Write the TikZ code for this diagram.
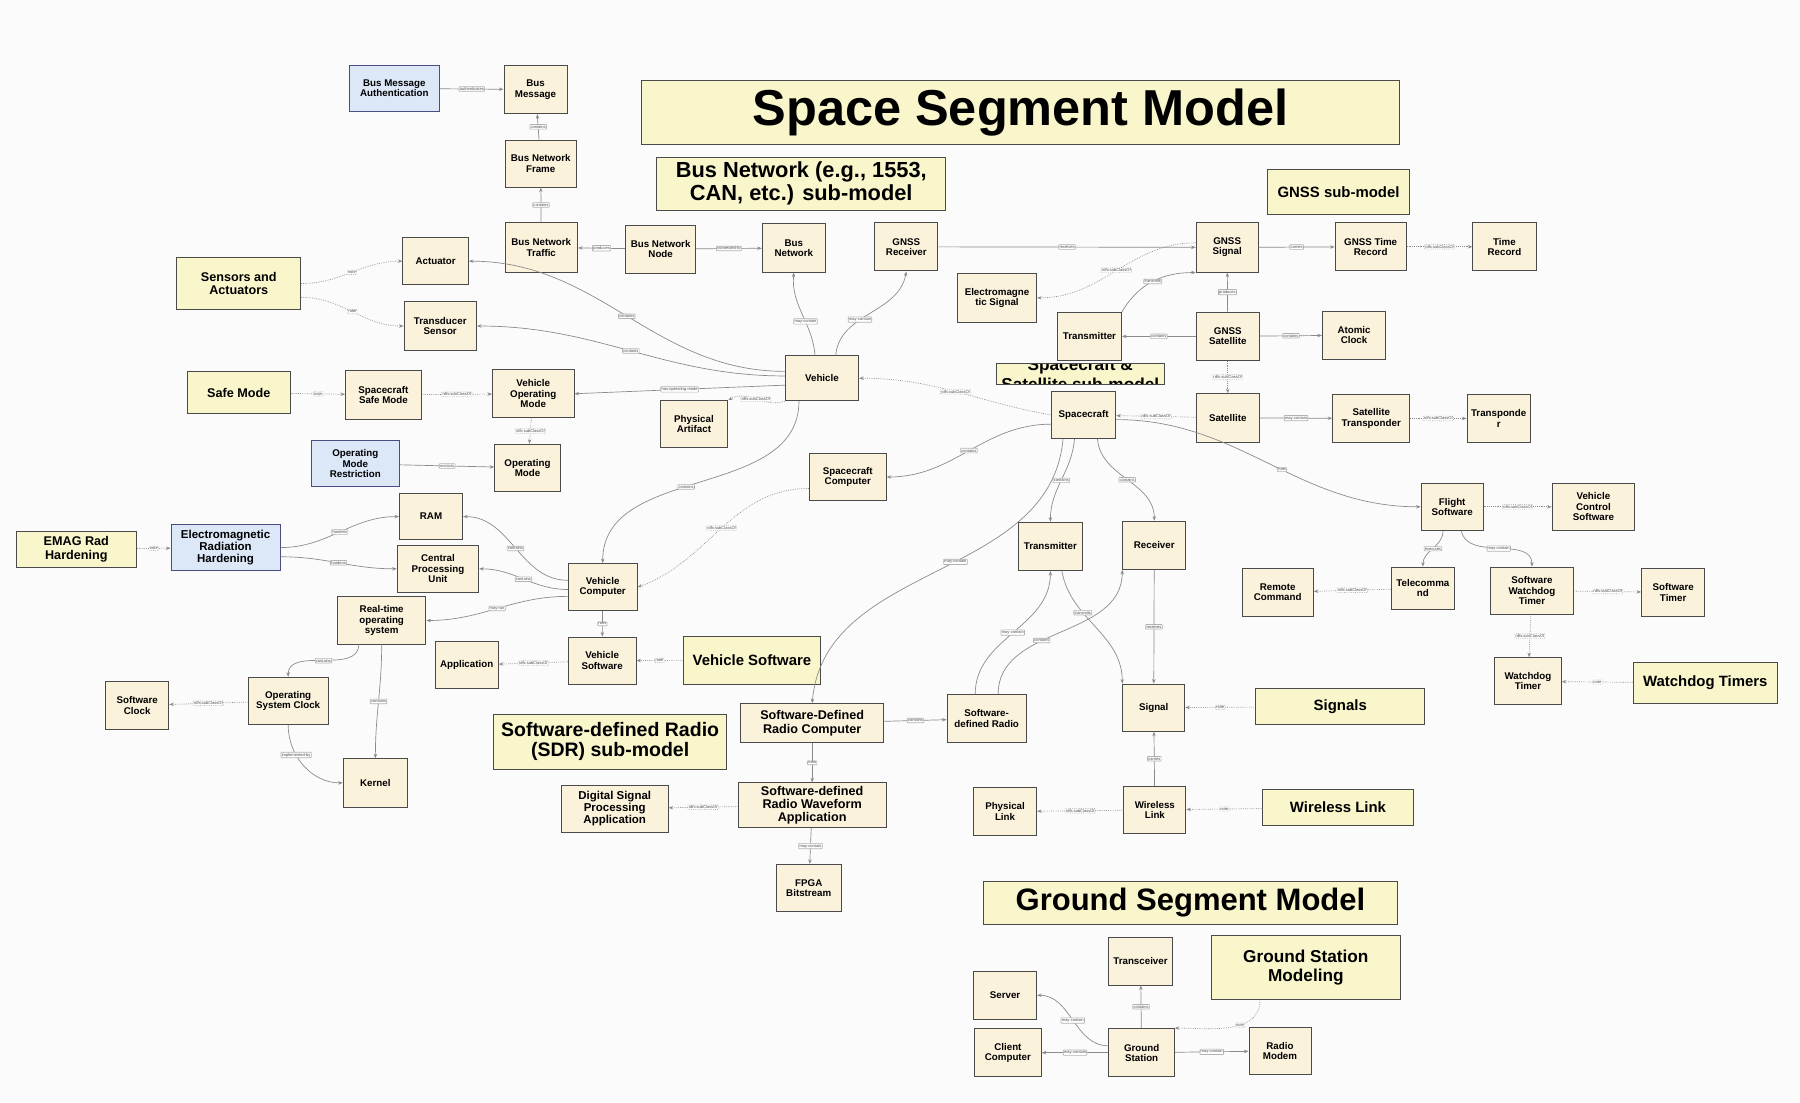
\documentclass[tikz,border=0pt]{standalone}
\usepackage{fontspec}
\setmainfont{Liberation Sans}
\usetikzlibrary{arrows.meta}
\definecolor{cream}{HTML}{FBF2DC}
\definecolor{notey}{HTML}{FAF6CC}
\definecolor{bluef}{HTML}{DCE7F8}
\definecolor{bord}{HTML}{4A4A4A}
\definecolor{edg}{HTML}{8A8A8A}
\tikzset{
 box/.style={draw=bord,fill=cream,line width=0.8pt,align=center,inner sep=1pt,font=\fontsize{8.5}{9}\selectfont\bfseries},
 note/.style={draw=bord,fill=notey,line width=0.8pt,align=center,inner sep=1pt,font=\fontsize{13}{14}\selectfont\bfseries},
 blue/.style={box,fill=bluef,draw=HTML4A},
 ttl/.style={draw=bord,fill=notey,line width=0.8pt,align=center,inner sep=1pt,font=\fontsize{17}{18}\selectfont\bfseries},
 edge/.style={draw=edg,line width=0.6pt,-{Stealth[length=4pt,width=3pt]}},
 dedge/.style={edge,densely dotted},
 lbl/.style={fill=white,draw=gray!60,rounded corners=0.5pt,inner sep=0.7pt,font=\fontsize{3.5}{4}\selectfont,text=black!70},
}
\colorlet{HTML4A}{blue!30!black!70}
\newcommand\B[7]{\node[#7,minimum width={(#4-#2)*1pt},minimum height={(#5-#3)*1pt}] (#1) at ({(#2+#4)/2},{(#3+#5)/2}) {#6};}
\begin{document}
\begin{tikzpicture}[x=1pt,y=-1pt]
\useasboundingbox (0,0) rectangle (1568,960);
\fill[white!97!gray] (0,0) rectangle (1568,960);
% titles
\B{t1}{559}{70}{1219}{126}{Space Segment Model}{ttl,font=\fontsize{44}{46}\selectfont\bfseries}
\B{t2}{572}{137}{824}{183}{Bus Network (e.g., 1553,\\CAN, etc.) sub-model}{ttl,font=\fontsize{19}{20}\selectfont\bfseries}
\B{t3}{1104}{148}{1228}{187}{GNSS sub-model}{ttl,font=\fontsize{13}{14}\selectfont\bfseries}
\begin{scope}
\clip (868,317) rectangle (1014,335);
\B{t4}{868}{317}{1014}{335}{Spacecraft \&\\Satellite sub-model}{ttl,font=\fontsize{15}{17}\selectfont\bfseries}
\end{scope}
\draw[bord,line width=0.8pt] (868,317) rectangle (1014,335);
\B{t5}{430}{622}{633}{670}{Software-defined Radio\\(SDR) sub-model}{ttl}
\B{t6}{857}{768}{1217}{805}{Ground Segment Model}{ttl,font=\fontsize{27}{28}\selectfont\bfseries}
\B{gsm}{1055}{815}{1220}{871}{Ground Station\\Modeling}{note,font=\fontsize{15}{16}\selectfont\bfseries}
% notes
\B{sa}{154}{224}{262}{270}{Sensors and\\Actuators}{note,font=\fontsize{11}{12}\selectfont\bfseries}
\B{sm}{163}{324}{253}{360}{Safe Mode}{note,font=\fontsize{11}{12}\selectfont\bfseries}
\B{emag}{14}{463}{119}{494}{EMAG Rad\\Hardening}{note,font=\fontsize{11}{12}\selectfont\bfseries}
\B{vsn}{595}{554}{715}{596}{Vehicle Software}{note}
\B{sign}{1094}{600}{1241}{631}{Signals}{note}
\B{wln}{1100}{688}{1231}{719}{Wireless Link}{note}
\B{wdn}{1423}{577}{1548}{613}{Watchdog Timers}{note}
% blue
\B{bma}{304}{57}{383}{97}{Bus Message\\Authentication}{blue}
\B{omr}{271}{384}{348}{424}{Operating\\Mode\\Restriction}{blue}
\B{emrh}{149}{457}{244}{497}{Electromagnetic\\Radiation\\Hardening}{blue,font=\fontsize{10}{10.5}\selectfont\bfseries}
% boxes
\B{bm}{439}{57}{494}{99}{Bus\\Message}{box}
\B{bnf}{440}{122}{502}{163}{Bus Network\\Frame}{box}
\B{bnt}{440}{194}{503}{237}{Bus Network\\Traffic}{box}
\B{bnn}{545}{196}{606}{238}{Bus Network\\Node}{box}
\B{bn}{664}{195}{719}{237}{Bus\\Network}{box}
\B{gr}{762}{194}{817}{236}{GNSS\\Receiver}{box}
\B{gs}{1042}{194}{1096}{237}{GNSS\\Signal}{box}
\B{gtr}{1163}{194}{1225}{236}{GNSS Time\\Record}{box}
\B{tr}{1283}{194}{1338}{236}{Time\\Record}{box}
\B{ems}{834}{238}{903}{281}{Electromagne\\tic Signal}{box}
\B{act}{351}{207}{408}{248}{Actuator}{box}
\B{ts}{352}{263}{415}{305}{Transducer\\Sensor}{box}
\B{tx1}{921}{272}{977}{314}{Transmitter}{box}
\B{gsat}{1042}{272}{1097}{314}{GNSS\\Satellite}{box}
\B{ac}{1152}{271}{1207}{313}{Atomic\\Clock}{box}
\B{veh}{684}{310}{748}{349}{Vehicle}{box}
\B{ssm}{301}{323}{367}{365}{Spacecraft\\Safe Mode}{box}
\B{vom}{429}{322}{500}{364}{Vehicle\\Operating\\Mode}{box}
\B{pa}{575}{349}{634}{390}{Physical\\Artifact}{box}
\B{sc}{916}{341}{972}{382}{Spacecraft}{box}
\B{sat}{1042}{343}{1097}{385}{Satellite}{box}
\B{st}{1161}{344}{1228}{385}{Satellite\\Transponder}{box}
\B{tp}{1278}{344}{1333}{385}{Transponde\\r}{box}
\B{om}{431}{387}{488}{428}{Operating\\Mode}{box}
\B{scc}{705}{395}{772}{436}{Spacecraft\\Computer}{box}
\B{fs}{1238}{421}{1292}{462}{Flight\\Software}{box}
\B{vcs}{1352}{421}{1424}{462}{Vehicle\\Control\\Software}{box}
\B{ram}{348}{430}{403}{470}{RAM}{box}
\B{cpu}{346}{475}{417}{516}{Central\\Processing\\Unit}{box}
\B{tx2}{887}{455}{943}{497}{Transmitter}{box}
\B{rx}{978}{454}{1033}{496}{Receiver}{box}
\B{vc}{495}{491}{555}{532}{Vehicle\\Computer}{box}
\B{rc}{1082}{495}{1144}{537}{Remote\\Command}{box}
\B{tc}{1212}{494}{1267}{531}{Telecomma\\nd}{box}
\B{swt}{1298}{494}{1371}{535}{Software\\Watchdog\\Timer}{box}
\B{stm}{1430}{495}{1485}{537}{Software\\Timer}{box}
\B{rtos}{294}{520}{371}{561}{Real-time\\operating\\system}{box}
\B{vs}{495}{555}{554}{596}{Vehicle\\Software}{box}
\B{app}{379}{559}{434}{600}{Application}{box}
\B{wt}{1302}{573}{1360}{614}{Watchdog\\Timer}{box}
\B{sclk}{92}{594}{147}{635}{Software\\Clock}{box}
\B{osc}{216}{590}{286}{631}{Operating\\System Clock}{box}
\B{sig}{978}{596}{1032}{637}{Signal}{box}
\B{sdrc}{645}{613}{770}{647}{Software-Defined\\Radio Computer}{box,font=\fontsize{11}{11.5}\selectfont\bfseries}
\B{sdr}{825}{605}{894}{647}{Software-\\defined Radio}{box}
\B{ker}{299}{661}{355}{703}{Kernel}{box}
\B{dsp}{489}{684}{582}{725}{Digital Signal\\Processing\\Application}{box,font=\fontsize{10}{10.5}\selectfont\bfseries}
\B{sdrw}{643}{682}{772}{721}{Software-defined\\Radio Waveform\\Application}{box,font=\fontsize{11}{11.5}\selectfont\bfseries}
\B{pl}{848}{686}{903}{728}{Physical\\Link}{box}
\B{wl}{979}{685}{1033}{726}{Wireless\\Link}{box}
\B{fpga}{676}{753}{733}{794}{FPGA\\Bitstream}{box}
\B{trc}{966}{817}{1021}{858}{Transceiver}{box}
\B{srv}{848}{846}{903}{888}{Server}{box}
\B{cc}{849}{896}{907}{938}{Client\\Computer}{box}
\B{gst}{966}{896}{1023}{938}{Ground\\Station}{box}
\B{rm}{1088}{895}{1142}{936}{Radio\\Modem}{box}
% edges bus
\draw[edge] (bma) -- node[lbl]{authenticates} (bm);
\draw[edge] (bnf) -- node[lbl]{contains} (bm);
\draw[edge] (bnt) -- node[lbl]{contains} (bnf);
\draw[edge] (bnn) -- node[lbl]{produces} (bnt);
\draw[edge] (bnn) -- node[lbl]{connected-to} (bn);
\draw[edge] (veh.north) ++(-6,0) to[out=95,in=-95] node[lbl,pos=0.4]{may-contain} (bn.south);
\draw[edge] (veh.north) ++(12,0) to[out=85,in=-100] node[lbl,pos=0.4]{may-contain} (gr.south);
% GNSS
\draw[edge] (gr) -- node[lbl]{receives} (gs);
\draw[edge] (gs) -- node[lbl]{carries} (gtr);
\draw[dedge] (gtr) -- node[lbl]{rdfs:subClassOf} (tr);
\draw[dedge] (gs.west) ++(0,-4) to[out=180,in=0] node[lbl]{rdfs:subClassOf} (ems.east);
\draw[edge] (tx1.north east) to[out=60,in=180] node[lbl]{transmits} (gs.south west);
\draw[edge] (gsat) -- node[lbl]{produces} (gs);
\draw[edge] (gsat) -- node[lbl]{contains} (tx1);
\draw[edge] (gsat) -- node[lbl]{contains} (ac);
\draw[dedge] (gsat) -- node[lbl]{rdfs:subClassOf} (sat);
\draw[dedge] (sat) -- node[lbl]{rdfs:subClassOf} (sc);
\draw[edge] (sat) -- node[lbl]{may-contain} (st);
\draw[dedge] (st) -- node[lbl]{rdfs:subClassOf} (tp);
\draw[dedge] (sc.west) to[out=170,in=0] node[lbl]{rdfs:subClassOf} (veh.east);
\draw[edge] (sc.west) ++(0,8) to[out=180,in=0] node[lbl]{contains} (scc.east);
\draw[edge] (sc.south) ++(-8,0) to[out=-95,in=90] node[lbl]{contains} (tx2.north);
\draw[edge] (sc.south) ++(12,0) to[out=-85,in=90] node[lbl]{contains} (rx.north);
\draw[edge] (sc.south) ++(-18,0) to[out=-95,in=85] node[lbl,pos=0.45]{may-contain} (sdrc.north);
\draw[edge] (sc.east) ++(0,4) to[out=0,in=180] node[lbl,pos=0.55]{runs} (fs.west);
\draw[dedge] (fs) -- node[lbl]{rdfs:subClassOf} (vcs);
\draw[edge] (fs.south) ++(-8,0) to[out=-90,in=90] node[lbl]{executes} (tc.north);
\draw[edge] (fs.south) ++(8,0) to[out=-80,in=90] node[lbl]{may-contain} (swt.north);
\draw[dedge] (tc) -- node[lbl]{rdfs:subClassOf} (rc);
\draw[dedge] (swt) -- node[lbl]{rdfs:subClassOf} (stm);
\draw[dedge] (swt) -- node[lbl]{rdfs:subClassOf} (wt);
\draw[dedge] (wdn) -- node[lbl]{note} (wt);
% vehicle
\draw[edge] (veh.west) ++(0,-6) to[out=180,in=0] node[lbl]{contains} (act.east);
\draw[edge] (veh.west) ++(0,-2) to[out=180,in=0] node[lbl]{contains} (ts.east);
\draw[dedge] (sa.east) to[out=0,in=180] node[lbl]{note} (act.west);
\draw[dedge] (sa.east) ++(0,12) to[out=0,in=180] node[lbl]{note} (ts.west);
\draw[edge] (veh.west) ++(0,6) -- node[lbl]{has-operating-mode} (vom.east);
\draw[dedge] (veh.south west) to[out=200,in=30] node[lbl]{rdfs:subClassOf} (pa.north east);
\draw[dedge] (sm) -- node[lbl]{note} (ssm);
\draw[dedge] (ssm) -- node[lbl]{rdfs:subClassOf} (vom);
\draw[dedge] (vom) -- node[lbl]{rdfs:subClassOf} (om);
\draw[edge] (omr) -- node[lbl]{restricts} (om);
\draw[edge] (veh.south) ++(-20,0) to[out=-90,in=90] node[lbl,pos=0.55]{contains} (vc.north);
\draw[dedge] (scc.west) ++(0,10) to[out=180,in=20] node[lbl]{rdfs:subClassOf} (vc.east);
\draw[edge] (vc.west) ++(0,-6) to[out=180,in=0] node[lbl]{contains} (ram.east);
\draw[edge] (vc.west) ++(0,2) to[out=180,in=0] node[lbl]{contains} (cpu.east);
\draw[edge] (vc.west) ++(0,8) to[out=180,in=0] node[lbl]{may-run} (rtos.east);
\draw[edge] (vc) -- node[lbl]{runs} (vs);
\draw[edge] (emrh.east) to[out=0,in=180] node[lbl]{hardens} (ram.west);
\draw[edge] (emrh.east) ++(0,8) to[out=0,in=180] node[lbl]{hardens} (cpu.west);
\draw[dedge] (emag) -- node[lbl]{note} (emrh);
\draw[dedge] (vs) -- node[lbl]{rdfs:subClassOf} (app);
\draw[dedge] (vsn) -- node[lbl]{note} (vs);
\draw[edge] (rtos.south) ++(-20,0) to[out=-90,in=90] node[lbl]{contains} (osc.north);
\draw[edge] (rtos.south) to[out=-90,in=90] node[lbl]{contains} (ker.north);
\draw[dedge] (osc) -- node[lbl]{rdfs:subClassOf} (sclk);
\draw[edge] (osc.south) to[out=-90,in=180] node[lbl,pos=0.35]{implemented-by} (ker.west);
% SDR
\draw[edge] (sdrc) -- node[lbl]{contains} (sdr);
\draw[edge] (sdrc) -- node[lbl]{runs} (sdrw);
\draw[edge] (sdr.north) ++(-10,0) to[out=90,in=-90] node[lbl]{may-contain} (tx2.south);
\draw[edge] (sdr.north) ++(10,0) to[out=90,in=-90] node[lbl,pos=0.4]{contains} (rx.south west);
\draw[edge] (tx2.south) ++(10,0) to[out=-80,in=90] node[lbl,pos=0.35]{transmits} (sig.north west);
\draw[edge] (rx) -- node[lbl]{receives} (sig);
\draw[dedge] (sign) -- node[lbl]{note} (sig);
\draw[edge] (wl) -- node[lbl]{carries} (sig);
\draw[dedge] (wl) -- node[lbl]{rdfs:subClassOf} (pl);
\draw[dedge] (wln) -- node[lbl]{note} (wl);
\draw[dedge] (sdrw) -- node[lbl]{rdfs:subClassOf} (dsp);
\draw[edge] (sdrw) -- node[lbl]{may-contain} (fpga);
% ground
\draw[edge] (gst) -- node[lbl]{contains} (trc);
\draw[edge] (gst.west) ++(0,-6) to[out=180,in=0] node[lbl]{may-contain} (srv.east);
\draw[edge] (gst) -- node[lbl]{may-contain} (cc);
\draw[edge] (gst) -- node[lbl]{may-contain} (rm);
\draw[dedge] (gsm.south) ++(-40,0) to[out=-90,in=0] node[lbl,pos=0.4]{note} (gst.north east);
\end{tikzpicture}
\end{document}
